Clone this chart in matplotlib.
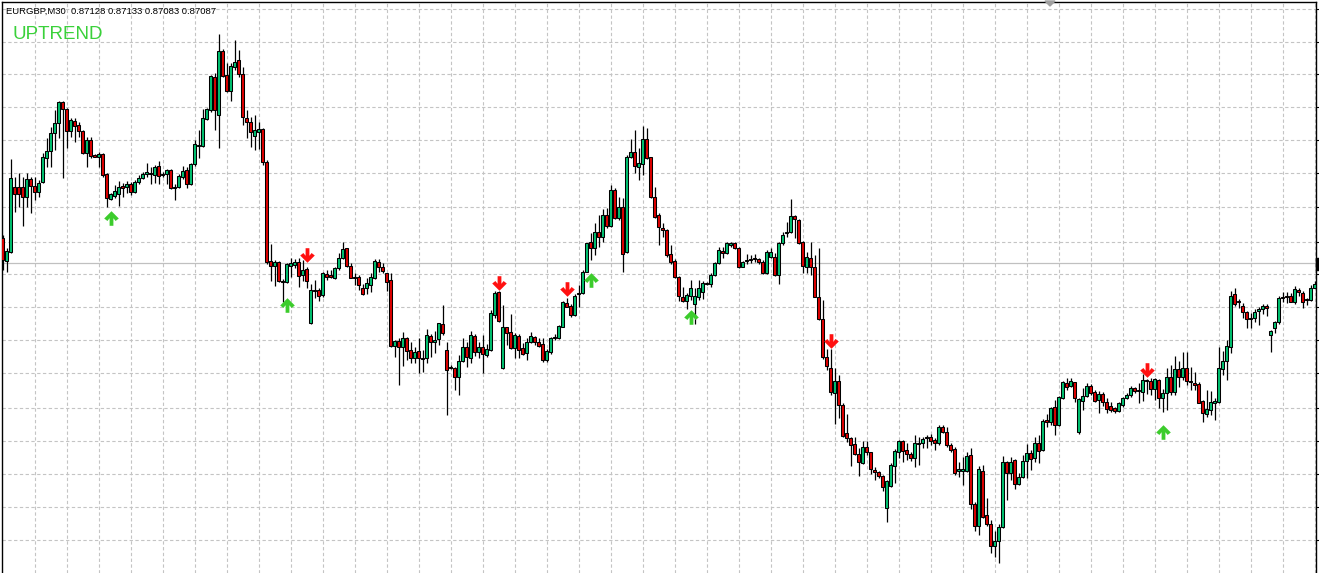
import numpy as np
import matplotlib
matplotlib.use('Agg')
import matplotlib.pyplot as plt
from matplotlib.path import Path
from matplotlib.patches import Rectangle, Polygon

SYMBOL = "EURGBP,M30"
LAST_OHLC = ["0.87128", "0.87133", "0.87083", "0.87087"]
TREND_LABEL = "UPTREND"
BID_PTS = 87087

# prices in points (price * 1e5), one entry per M30 bar
open_pts = [
87112, 87089, 87098, 87163, 87163, 87163, 87153, 87171, 87164, 87158,
87168, 87192, 87199, 87217, 87227, 87248, 87241, 87219, 87229, 87225,
87219, 87197, 87210, 87195, 87193, 87196, 87176, 87151, 87154, 87156,
87164, 87163, 87166, 87158, 87168, 87172, 87176, 87177, 87175, 87184,
87176, 87176, 87180, 87163, 87163, 87173, 87180, 87166, 87186, 87204,
87204, 87231, 87240, 87273, 87235, 87299, 87275, 87259, 87283, 87290,
87276, 87232, 87228, 87214, 87218, 87221, 87188, 87089, 87084, 87088,
87069, 87068, 87084, 87085, 87088, 87075, 87081, 87027, 87060, 87060,
87055, 87076, 87075, 87072, 87082, 87092, 87102, 87084, 87073, 87073,
87062, 87062, 87065, 87072, 87088, 87083, 87077, 87070, 87004, 87009,
87003, 87012, 87000, 86992, 86999, 86992, 86992, 87014, 87008, 87011,
87026, 87000, 86983, 86982, 86973, 86989, 87003, 86992, 87014, 86998,
87003, 86995, 87000, 87035, 87058, 86982, 87023, 87018, 87002, 87014,
87002, 86997, 87008, 87013, 87008, 87006, 86990, 86998, 87012, 87012,
87023, 87047, 87044, 87035, 87056, 87057, 87078, 87108, 87102, 87118,
87113, 87135, 87124, 87160, 87132, 87143, 87098, 87193, 87198, 87183,
87186, 87211, 87193, 87153, 87135, 87122, 87120, 87096, 87089, 87073,
87053, 87049, 87054, 87046, 87053, 87058, 87067, 87066, 87075, 87087,
87099, 87097, 87105, 87107, 87102, 87083, 87089, 87091, 87092, 87091,
87088, 87077, 87093, 87093, 87075, 87107, 87117, 87118, 87134, 87130,
87108, 87083, 87092, 87083, 87053, 87031, 86993, 86982, 86957, 86969,
86945, 86917, 86912, 86906, 86896, 86887, 86903, 86898, 86880, 86878,
86874, 86842, 86864, 86884, 86898, 86909, 86900, 86896, 86892, 86907,
86907, 86913, 86913, 86910, 86907, 86923, 86918, 86905, 86901, 86879,
86879, 86879, 86895, 86846, 86824, 86879, 86835, 86826, 86804, 86809,
86823, 86888, 86877, 86890, 86866, 86873, 86889, 86897, 86892, 86907,
86900, 86930, 86928, 86943, 86925, 86952, 86967, 86964, 86968, 86918,
86949, 86954, 86964, 86958, 86950, 86956, 86948, 86944, 86942, 86939,
86945, 86952, 86955, 86962, 86959, 86958, 86970, 86969, 86961, 86970,
86952, 86957, 86973, 86958, 86981, 86973, 86982, 86969, 86967, 86966,
86949, 86936, 86940, 86947, 86948, 86981, 86989, 87003, 87056, 87049,
87044, 87038, 87032, 87032, 87039, 87041, 87044, 87015, 87022, 87028,
87053, 87053, 87054, 87048, 87060, 87057, 87050, 87050, 87062]

high_pts = [
87115, 87102, 87191, 87173, 87177, 87173, 87177, 87173, 87173, 87170,
87197, 87212, 87223, 87240, 87249, 87249, 87242, 87232, 87232, 87228,
87220, 87213, 87213, 87196, 87198, 87197, 87177, 87157, 87165, 87169,
87167, 87169, 87168, 87170, 87175, 87178, 87187, 87183, 87185, 87189,
87178, 87181, 87181, 87166, 87176, 87184, 87183, 87187, 87210, 87220,
87241, 87242, 87275, 87277, 87316, 87301, 87287, 87287, 87310, 87300,
87283, 87240, 87233, 87235, 87228, 87222, 87190, 87106, 87090, 87089,
87071, 87087, 87092, 87091, 87092, 87090, 87083, 87066, 87070, 87062,
87078, 87080, 87080, 87083, 87097, 87108, 87102, 87087, 87077, 87075,
87066, 87072, 87077, 87091, 87091, 87087, 87077, 87077, 87010, 87012,
87018, 87013, 87008, 87003, 87012, 87000, 87021, 87016, 87019, 87027,
87045, 87008, 86985, 86983, 86995, 87012, 87008, 87019, 87016, 87008,
87015, 87006, 87040, 87059, 87059, 87045, 87023, 87036, 87017, 87016,
87007, 87012, 87018, 87014, 87012, 87012, 87001, 87013, 87016, 87025,
87049, 87052, 87046, 87056, 87065, 87080, 87107, 87117, 87127, 87135,
87141, 87142, 87165, 87162, 87153, 87152, 87195, 87211, 87220, 87202,
87224, 87222, 87193, 87163, 87137, 87127, 87121, 87105, 87091, 87074,
87063, 87057, 87070, 87062, 87070, 87069, 87068, 87077, 87088, 87103,
87103, 87108, 87108, 87108, 87103, 87089, 87096, 87095, 87096, 87092,
87090, 87100, 87102, 87097, 87108, 87118, 87128, 87151, 87135, 87131,
87109, 87098, 87108, 87095, 87102, 87050, 87001, 87001, 86982, 86975,
86947, 86936, 86913, 86913, 86902, 86909, 86909, 86898, 86883, 86879,
86875, 86870, 86887, 86901, 86910, 86910, 86907, 86898, 86915, 86913,
86913, 86915, 86916, 86912, 86925, 86925, 86923, 86907, 86903, 86888,
86893, 86898, 86902, 86848, 86884, 86885, 86852, 86830, 86819, 86826,
86894, 86889, 86893, 86891, 86877, 86895, 86906, 86900, 86913, 86915,
86931, 86936, 86943, 86950, 86954, 86969, 86972, 86972, 86968, 86952,
86962, 86967, 86966, 86960, 86959, 86958, 86952, 86948, 86943, 86948,
86953, 86957, 86964, 86963, 86967, 86976, 86971, 86972, 86972, 86971,
86961, 86982, 86985, 86994, 86989, 86998, 86998, 86983, 86978, 86968,
86950, 86960, 86959, 86952, 87003, 86999, 87010, 87059, 87062, 87051,
87047, 87039, 87037, 87041, 87043, 87046, 87046, 87020, 87029, 87054,
87058, 87058, 87057, 87064, 87062, 87059, 87052, 87065, 87069]

low_pts = [
87080, 87078, 87097, 87138, 87143, 87124, 87143, 87137, 87150, 87153,
87167, 87183, 87183, 87200, 87212, 87172, 87202, 87213, 87208, 87213,
87196, 87183, 87192, 87193, 87183, 87173, 87143, 87150, 87152, 87144,
87153, 87157, 87155, 87157, 87166, 87171, 87173, 87166, 87167, 87166,
87173, 87166, 87161, 87150, 87162, 87171, 87162, 87165, 87184, 87192,
87203, 87230, 87238, 87220, 87202, 87273, 87258, 87249, 87280, 87273,
87225, 87212, 87203, 87200, 87201, 87185, 87086, 87069, 87064, 87068,
87048, 87067, 87073, 87082, 87063, 87069, 87062, 87026, 87052, 87049,
87053, 87070, 87072, 87071, 87080, 87091, 87083, 87072, 87065, 87060,
87055, 87056, 87058, 87071, 87078, 87077, 87059, 87003, 86993, 86965,
86984, 86990, 86987, 86987, 86977, 86978, 86987, 86993, 86997, 87005,
87015, 86935, 86981, 86960, 86955, 86988, 86983, 86987, 86994, 86992,
86977, 86993, 86999, 87032, 87028, 86981, 87005, 87001, 86992, 86992,
86995, 86990, 87007, 87005, 87003, 86988, 86988, 86996, 87010, 87011,
87023, 87043, 87033, 87034, 87043, 87056, 87078, 87090, 87095, 87103,
87108, 87122, 87123, 87131, 87130, 87078, 87097, 87192, 87177, 87170,
87175, 87191, 87152, 87132, 87105, 87113, 87093, 87086, 87072, 87049,
87048, 87041, 87050, 87026, 87050, 87051, 87065, 87063, 87074, 87086,
87092, 87096, 87103, 87101, 87082, 87083, 87086, 87087, 87088, 87086,
87076, 87076, 87092, 87074, 87066, 87105, 87113, 87117, 87112, 87106,
87077, 87077, 87075, 87053, 87030, 86991, 86980, 86955, 86926, 86932,
86913, 86908, 86884, 86895, 86874, 86886, 86895, 86876, 86870, 86872,
86859, 86828, 86863, 86867, 86892, 86888, 86890, 86889, 86883, 86885,
86902, 86902, 86905, 86900, 86905, 86917, 86903, 86898, 86875, 86873,
86865, 86878, 86841, 86819, 86815, 86832, 86824, 86797, 86793, 86787,
86822, 86850, 86870, 86861, 86865, 86872, 86872, 86880, 86888, 86887,
86899, 86923, 86925, 86915, 86924, 86951, 86960, 86963, 86948, 86916,
86940, 86953, 86955, 86948, 86937, 86944, 86937, 86938, 86937, 86938,
86943, 86951, 86953, 86957, 86947, 86949, 86956, 86955, 86950, 86942,
86938, 86940, 86955, 86955, 86963, 86970, 86965, 86960, 86960, 86947,
86928, 86933, 86935, 86930, 86947, 86975, 86970, 86997, 87044, 87042,
87032, 87022, 87022, 87028, 87025, 87036, 87034, 86998, 87017, 87026,
87048, 87047, 87048, 87046, 87054, 87042, 87045, 87049, 87062]

close_pts = [
87090, 87099, 87172, 87156, 87156, 87153, 87171, 87164, 87158, 87167,
87193, 87199, 87217, 87227, 87248, 87241, 87219, 87230, 87224, 87219,
87197, 87210, 87194, 87193, 87196, 87175, 87152, 87156, 87159, 87163,
87162, 87166, 87158, 87168, 87172, 87176, 87178, 87176, 87183, 87174,
87175, 87180, 87162, 87162, 87174, 87179, 87166, 87186, 87206, 87205,
87232, 87241, 87274, 87240, 87299, 87274, 87259, 87284, 87288, 87276,
87233, 87228, 87218, 87220, 87221, 87188, 87088, 87084, 87088, 87069,
87068, 87086, 87087, 87088, 87074, 87080, 87069, 87060, 87059, 87054,
87077, 87073, 87073, 87082, 87092, 87101, 87084, 87072, 87072, 87065,
87056, 87067, 87073, 87089, 87083, 87079, 87068, 87004, 87009, 87003,
87012, 86999, 86992, 86998, 86992, 86991, 87015, 87008, 87010, 87027,
87017, 86980, 86982, 86973, 86989, 87003, 86993, 87015, 86998, 87003,
86996, 87001, 87037, 87057, 87029, 87023, 87017, 87002, 87015, 87000,
86996, 87008, 87014, 87008, 87004, 86990, 86999, 87012, 87013, 87024,
87048, 87043, 87035, 87054, 87057, 87078, 87107, 87102, 87118, 87113,
87135, 87124, 87160, 87132, 87143, 87096, 87193, 87198, 87184, 87187,
87211, 87192, 87153, 87133, 87123, 87120, 87095, 87088, 87073, 87054,
87049, 87055, 87062, 87054, 87062, 87067, 87066, 87075, 87087, 87100,
87097, 87107, 87107, 87102, 87083, 87088, 87089, 87090, 87091, 87088,
87077, 87098, 87098, 87075, 87107, 87115, 87118, 87134, 87131, 87107,
87084, 87093, 87083, 87053, 87031, 86993, 86984, 86958, 86969, 86945,
86914, 86912, 86905, 86896, 86888, 86903, 86898, 86881, 86878, 86874,
86863, 86869, 86885, 86899, 86909, 86899, 86896, 86892, 86907, 86906,
86911, 86912, 86909, 86907, 86923, 86918, 86905, 86900, 86877, 86881,
86881, 86894, 86846, 86824, 86881, 86833, 86826, 86804, 86809, 86823,
86888, 86877, 86888, 86866, 86873, 86889, 86897, 86891, 86907, 86899,
86929, 86928, 86942, 86925, 86953, 86968, 86963, 86969, 86952, 86951,
86954, 86964, 86957, 86949, 86956, 86948, 86941, 86940, 86939, 86947,
86952, 86955, 86962, 86959, 86960, 86970, 86969, 86961, 86971, 86952,
86957, 86973, 86958, 86981, 86973, 86982, 86969, 86968, 86965, 86947,
86937, 86941, 86948, 86949, 86982, 86989, 87004, 87054, 87046, 87048,
87038, 87031, 87031, 87038, 87041, 87044, 87042, 87019, 87028, 87052,
87052, 87053, 87048, 87061, 87058, 87048, 87050, 87062, 87066]

# signal arrows (bar index, price in points)
up_arrow_idx = [27, 71, 147, 172, 290]
up_arrow_pts = [87132, 87045, 87070, 87033, 86918]
down_arrow_idx = [76, 124, 141, 207, 286]
down_arrow_pts = [87095, 87067, 87061, 87009, 86980]

# horizontal grid price levels (points)
grid_pts = [87341, 87308, 87276, 87243, 87210, 87177, 87143, 87108, 87076,
            87043, 87010, 86977, 86942, 86909, 86876, 86843, 86810]

assert len(open_pts) == len(high_pts) == len(low_pts) == len(close_pts)

o = np.array(open_pts) / 1e5
h = np.array(high_pts) / 1e5
l = np.array(low_pts) / 1e5
c = np.array(close_pts) / 1e5
n = len(o)
idx = np.arange(n)

W, H = 1319, 573
fig = plt.figure(figsize=(W / 100, H / 100), dpi=100)
fig.patch.set_facecolor('white')
ax = fig.add_axes([2 / W, 0, 1314 / W, 571 / H])
ax.set_facecolor('white')

ax.set_xlim(-0.125, 328.375)
ax.set_ylim(0.86777, 0.87348)

# grid
grid_prices = np.array(grid_pts) / 1e5
ax.set_yticks(grid_prices)
ax.set_xticks(np.arange(8, n, 8) + 0.125)
ax.grid(True, color='#c4c4c4', linestyle=(0, (3.0, 2.2)), linewidth=0.8, zorder=0)
ax.yaxis.tick_right()
ax.tick_params(axis='y', direction='out', length=3, width=0.8, color='black',
               labelright=False, labelleft=False)
ax.tick_params(axis='x', length=0, labelbottom=False)

# bid line
ax.axhline(BID_PTS / 1e5, color='#c0c0c0', linewidth=0.9, zorder=1)

# spines
for s in ['left', 'top', 'right']:
    ax.spines[s].set_color('black')
    ax.spines[s].set_linewidth(1.0)
ax.spines['bottom'].set_visible(False)

# candles
bull = c > o
body_bottom = np.minimum(o, c)
body_h = np.maximum(np.abs(c - o), 1.2e-5)
colors = np.where(bull, '#00c070', '#dd0000')
ax.vlines(idx, l, h, color='black', linewidth=0.9, zorder=2)
ax.bar(idx, body_h, bottom=body_bottom, width=0.8, color=colors,
       edgecolor='black', linewidth=0.75, zorder=3)

# arrow markers (thick chevron + shaft)
up_verts = [(0, 0.5), (0.5, 0.0), (0.28, -0.17), (0.13, 0.02), (0.13, -0.5),
            (-0.13, -0.5), (-0.13, 0.02), (-0.28, -0.17), (-0.5, 0.0), (0, 0.5)]
codes = [Path.MOVETO] + [Path.LINETO] * (len(up_verts) - 2) + [Path.CLOSEPOLY]
up_path = Path(up_verts, codes)
down_path = Path([(x, -y) for x, y in up_verts], codes)

ax.plot(up_arrow_idx, np.array(up_arrow_pts) / 1e5, linestyle='none', marker=up_path,
        markersize=10.5, color='#3ccc2c', markeredgewidth=0, zorder=4)
ax.plot(down_arrow_idx, np.array(down_arrow_pts) / 1e5, linestyle='none', marker=down_path,
        markersize=10.5, color='#ff1010', markeredgewidth=0, zorder=4)

# texts
fig.text(6.5 / W, 1 - 11 / H, SYMBOL + "  " + " ".join(LAST_OHLC),
         fontsize=6.8, family='Liberation Sans', color='black', va='center', ha='left')
fig.text(12 / W, 1 - 34.5 / H, TREND_LABEL, fontsize=13.5, family='Liberation Sans',
         color='#3ad13a', va='center', ha='left')

# bid marker on price scale and chart shift triangle
fig.patches.append(Rectangle((1316 / W, 1 - 270 / H), 3 / W, 12 / H,
                             transform=fig.transFigure, color='black'))
fig.patches.append(Polygon([(1045 / W, 1 - 1 / H), (1055 / W, 1 - 1 / H), (1050 / W, 1 - 6 / H)],
                           closed=True, transform=fig.transFigure, color='#a0a0a0'))

fig.savefig('out.png', dpi=100, facecolor='white')
